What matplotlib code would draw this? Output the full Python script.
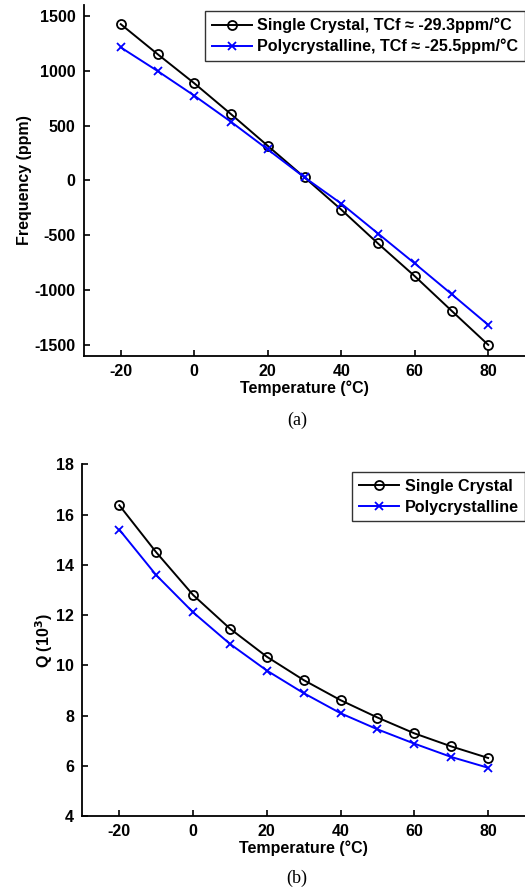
import numpy as np
import matplotlib
matplotlib.use("Agg")
import matplotlib.pyplot as plt

plt.rcParams["font.family"] = ["Liberation Sans", "DejaVu Sans"]
plt.rcParams["font.weight"] = "bold"
plt.rcParams["mathtext.default"] = "bf"
plt.rcParams["axes.unicode_minus"] = False

temps = [-20, -10, 0, 10, 20, 30, 40, 50, 60, 70, 80]

# (a) frequency shift, ppm
freq_single = [1425, 1152, 886, 604, 315, 27, -267, -576, -874, -1189, -1501]
freq_poly = [1213, 998, 773, 534, 282, 27, -212, -485, -758, -1037, -1319]

# (b) quality factor, x10^3
q_single = [16.37, 14.50, 12.80, 11.46, 10.34, 9.41, 8.61, 7.92, 7.29, 6.77, 6.31]
q_poly = [15.40, 13.59, 12.11, 10.85, 9.79, 8.89, 8.09, 7.45, 6.88, 6.35, 5.92]

labels_a = ["Single Crystal, TCf \u2248 -29.3ppm/\u00b0C",
            "Polycrystalline, TCf \u2248 -25.5ppm/\u00b0C"]
labels_b = ["Single Crystal", "Polycrystalline"]

BLUE = "#0000FF"
FS = 11.5
LFS = 11.6

fig = plt.figure(figsize=(5.25, 8.88), dpi=100)
ax1 = fig.add_axes([0.160, 0.5994, 0.840, 0.395])
ax2 = fig.add_axes([0.157, 0.0811, 0.843, 0.396])


def style(ax):
    for s in ("top", "right"):
        ax.spines[s].set_visible(False)
    for s in ("left", "bottom"):
        ax.spines[s].set_linewidth(1.3)
    ax.tick_params(direction="in", length=4, width=1.2, labelsize=FS, pad=6)
    ax.set_xlim(-30, 90)
    ax.set_xticks([-20, 0, 20, 40, 60, 80])
    for t in ax.get_xticklabels() + ax.get_yticklabels():
        t.set_fontweight("bold")


def add_legend(ax, anchor_y):
    leg = ax.legend(loc="upper right", bbox_to_anchor=(1.0, anchor_y),
                    fontsize=LFS, frameon=True, fancybox=False,
                    handlelength=2.5, handletextpad=0.35, borderpad=0.4,
                    labelspacing=0.35, borderaxespad=0.0)
    leg.get_frame().set_edgecolor("black")
    leg.get_frame().set_linewidth(1.0)


ax1.plot(temps, freq_single, "-o", color="black", lw=1.4, ms=6.5,
         mfc="none", mew=1.3, label=labels_a[0])
ax1.plot(temps, freq_poly, "-x", color=BLUE, lw=1.4, ms=5.5, mew=1.3,
         label=labels_a[1])
style(ax1)
ax1.set_ylim(-1600, 1600)
ax1.set_yticks([-1500, -1000, -500, 0, 500, 1000, 1500])
ax1.set_xlabel("Temperature (\u00b0C)", fontsize=FS, fontweight="bold", labelpad=1)
ax1.set_ylabel("Frequency (ppm)", fontsize=FS, fontweight="bold", labelpad=2)
add_legend(ax1, 0.982)

ax2.plot(temps, q_single, "-o", color="black", lw=1.4, ms=6.5,
         mfc="none", mew=1.3, label=labels_b[0])
ax2.plot(temps, q_poly, "-x", color=BLUE, lw=1.4, ms=5.5, mew=1.3,
         label=labels_b[1])
style(ax2)
ax2.set_ylim(4, 18)
ax2.set_yticks([4, 6, 8, 10, 12, 14, 16, 18])
ax2.set_xlabel("Temperature (\u00b0C)", fontsize=FS, fontweight="bold", labelpad=1)
ax2.set_ylabel(r"Q (10$^{3}$)", fontsize=FS, fontweight="bold", labelpad=1)
add_legend(ax2, 0.977)

fig.text(0.566, 1 - 420 / 888, "(a)", ha="center", va="center",
         family="Liberation Serif", fontweight="normal", fontsize=13)
fig.text(0.566, 1 - 878 / 888, "(b)", ha="center", va="center",
         family="Liberation Serif", fontweight="normal", fontsize=13)

fig.savefig("out.png", dpi=100, facecolor="white")
